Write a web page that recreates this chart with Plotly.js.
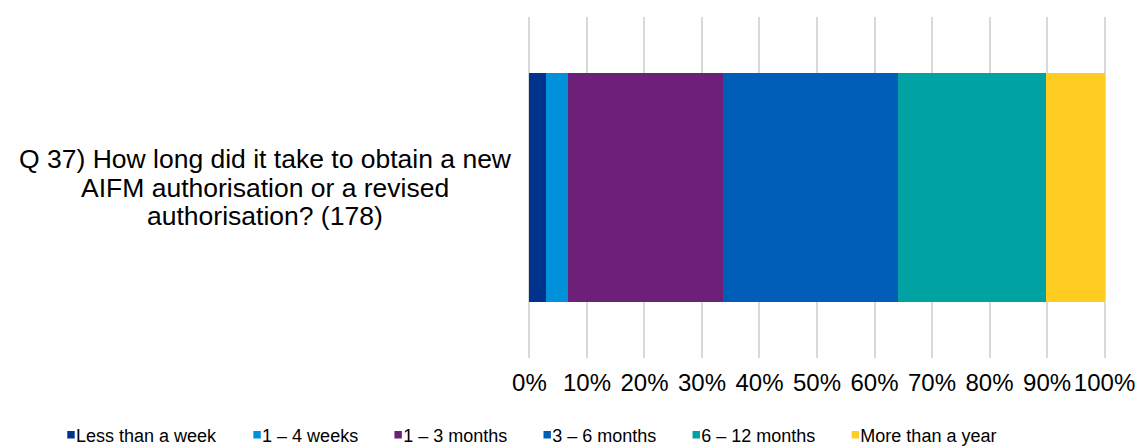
<!DOCTYPE html>
<html>
<head>
<meta charset="utf-8">
<script src="https://cdn.plot.ly/plotly-3.0.1.min.js"></script>
<style>
  html, body { margin: 0; padding: 0; background: #ffffff; }
  #chart { width: 1142px; height: 446px; }
  /* smaller square legend swatches sitting right next to their labels */
  #chart .legend .legendpoints path { transform: translate(35px, 0px) scale(0.62); }
</style>
</head>
<body>
<div id="chart"></div>
<script>
// Survey question shown as a single 100% stacked bar
const questionLines = [
  'Q 37) How long did it take to obtain a new',
  'AIFM authorisation or a revised',
  'authorisation? (178)'
];
const question = questionLines.join(' ');
const durations = ['Less than a week', '1 – 4 weeks', '1 – 3 months', '3 – 6 months', '6 – 12 months', 'More than a year'];
const shares = [2.8, 3.9, 27.0, 30.3, 25.8, 10.2];   // percent of respondents
const palette = ['#00338D', '#0091DA', '#6D2077', '#005EB8', '#00A3A1', '#FFCD22'];
const percentTicks = [0, 10, 20, 30, 40, 50, 60, 70, 80, 90, 100];
const percentLabels = percentTicks.map(v => v + '%');

const FONT = 'Liberation Sans, Arial, sans-serif';
const LINE_STEP = 28.5;   // px between question lines

const traces = durations.map((name, i) => ({
  type: 'bar',
  orientation: 'h',
  name: name,
  y: [question],
  x: [shares[i]],
  marker: { color: palette[i], line: { width: 0 } },
  hoverinfo: 'name+x'
}));

// question label, centred to the left of the bar, one annotation per line
const mid = (questionLines.length - 1) / 2;
const questionAnnotations = questionLines.map((line, i) => ({
  xref: 'paper',
  yref: 'y',
  x: -0.455,
  y: question,
  yshift: (mid - i) * LINE_STEP,
  xanchor: 'center',
  yanchor: 'middle',
  align: 'center',
  showarrow: false,
  text: line,
  font: { family: FONT, size: 26.5, color: '#000000' }
}));

const layout = {
  width: 1142,
  height: 446,
  barmode: 'stack',
  bargap: 0.33,
  paper_bgcolor: '#ffffff',
  plot_bgcolor: '#ffffff',
  margin: { l: 528, r: 36, t: 17, b: 88, autoexpand: false },
  font: { family: FONT, color: '#000000' },
  xaxis: {
    range: [-0.25, 100.25],
    tickmode: 'array',
    tickvals: percentTicks,
    ticktext: percentLabels,
    showgrid: true,
    gridcolor: '#D9D9D9',
    gridwidth: 2,
    zeroline: false,
    showline: false,
    ticks: 'outside',
    ticklen: 3,
    tickcolor: 'rgba(0,0,0,0)',
    tickfont: { family: FONT, size: 24, color: '#000000' },
    fixedrange: true
  },
  yaxis: {
    showticklabels: false,
    showgrid: false,
    zeroline: false,
    showline: false,
    fixedrange: true
  },
  showlegend: true,
  legend: {
    orientation: 'h',
    x: (36 - 528) / 578,
    xanchor: 'left',
    y: -0.226,
    yanchor: 'middle',
    traceorder: 'normal',
    font: { family: FONT, size: 18, color: '#000000' },
    itemwidth: 30,
    bgcolor: 'rgba(0,0,0,0)'
  },
  annotations: questionAnnotations
};

Plotly.newPlot('chart', traces, layout, { displayModeBar: false, staticPlot: true });
</script>
</body>
</html>
